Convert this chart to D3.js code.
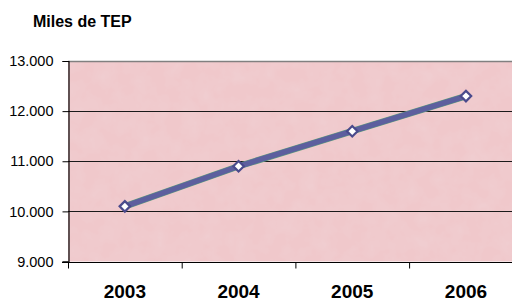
<!DOCTYPE html>
<html>
<head>
<meta charset="utf-8">
<script src="https://cdn.jsdelivr.net/npm/d3@7"></script>
<style>
  body { margin: 0; background: #fff; }
  svg { display: block; font-family: Arial, "Liberation Sans", sans-serif; }
</style>
</head>
<body>
<svg class="chart" width="512" height="302"></svg>
<script>
const years = ['2003', '2004', '2005', '2006']
const consumo = [10100, 10900, 11600, 12300]
const yTicks = [9000, 10000, 11000, 12000, 13000]
const yTickLabels = ['9.000', '10.000', '11.000', '12.000', '13.000']

const width = 512
const height = 302
const margin = {left: 68, top: 61, right: 0, bottom: 40}

const svg = d3.select('.chart')

const xScale = d3.scaleBand()
  .domain(years)
  .range([margin.left, margin.left + 4 * 113.7])

const yScale = d3.scaleLinear()
  .domain([9000, 13000])
  .range([height - margin.bottom - 0.5, margin.top])

// mottled pink background
const defs = svg.append('defs')
const filt = defs.append('filter').attr('id', 'mottle')
  .attr('x', 0).attr('y', 0).attr('width', 1).attr('height', 1)
filt.append('feTurbulence')
  .attr('type', 'fractalNoise')
  .attr('baseFrequency', 0.06)
  .attr('numOctaves', 3)
  .attr('seed', 4)
  .attr('result', 'noise')
filt.append('feColorMatrix')
  .attr('in', 'noise')
  .attr('type', 'matrix')
  .attr('values', '0 0 0 0 0.88  0 0 0 0 0.70  0 0 0 0 0.72  0.5 0 0 0 -0.16')
  .attr('result', 'tint')
filt.append('feComposite').attr('in', 'tint').attr('in2', 'SourceGraphic').attr('operator', 'atop')

svg.append('rect')
  .attr('x', margin.left)
  .attr('y', yScale(13000))
  .attr('width', width - margin.left)
  .attr('height', yScale(9000) - yScale(13000))
  .attr('fill', '#f0c8cb')
  .attr('filter', 'url(#mottle)')

// gridlines
svg.append('g')
  .selectAll('line')
  .data(yTicks.slice(1, 4))
  .enter()
  .append('line')
  .attr('x1', margin.left)
  .attr('x2', width)
  .attr('y1', d => Math.round(yScale(d)) + 0.5)
  .attr('y2', d => Math.round(yScale(d)) + 0.5)
  .attr('stroke', '#1a1a1a')
  .attr('stroke-width', 1)

// top border
svg.append('line')
  .attr('x1', margin.left).attr('x2', width)
  .attr('y1', Math.round(yScale(13000)) + 0.5)
  .attr('y2', Math.round(yScale(13000)) + 0.5)
  .attr('stroke', '#808080')
  .attr('stroke-width', 1.5)

// y axis
const yAxis = d3.axisLeft(yScale)
  .tickValues(yTicks)
  .tickSize(6)
  .tickFormat((d, i) => yTickLabels[i])

const gy = svg.append('g')
  .attr('transform', 'translate(' + (margin.left + 0.5) + ',0)')
  .call(yAxis)
gy.select('.domain').attr('stroke', '#000').attr('stroke-width', 1.2)
gy.selectAll('.tick line').attr('stroke', '#000')
gy.selectAll('.tick text')
  .attr('font-size', 14.5)
  .attr('font-family', 'Arial, "Liberation Sans", sans-serif')
  .attr('fill', '#000')
  .attr('x', -15)

// x axis
const xAxis = d3.axisBottom(xScale)
  .tickSize(0)

const gx = svg.append('g')
  .attr('transform', 'translate(0,' + (Math.round(yScale(9000)) + 0.5) + ')')
  .call(xAxis)
gx.select('.domain').remove()
gx.append('line')
  .attr('x1', margin.left - 6).attr('x2', width)
  .attr('stroke', '#000').attr('stroke-width', 1.2)
gx.selectAll('.sep')
  .data(years)
  .enter()
  .append('line')
  .attr('class', 'sep')
  .attr('x1', d => xScale(d) + 0.5)
  .attr('x2', d => xScale(d) + 0.5)
  .attr('y1', 0).attr('y2', 6)
  .attr('stroke', '#000')
gx.selectAll('.tick text')
  .attr('y', 35.5)
  .attr('dy', 0)
  .attr('font-size', 19)
  .attr('font-weight', 'bold')
  .attr('font-family', 'Arial, "Liberation Sans", sans-serif')
  .attr('fill', '#000')

// line
const pts = years.map((y, i) => ({year: y, value: consumo[i]}))
const line = d3.line()
  .x(d => xScale(d.year) + xScale.bandwidth() / 2)
  .y(d => yScale(d.value))

svg.append('path')
  .datum(pts)
  .attr('d', line)
  .attr('fill', 'none')
  .attr('stroke', '#5e9e7e')
  .attr('stroke-width', 6.5)
svg.append('path')
  .datum(pts)
  .attr('d', line)
  .attr('fill', 'none')
  .attr('stroke', '#5d5f9e')
  .attr('stroke-width', 5.5)

// markers
svg.append('g')
  .selectAll('path')
  .data(pts)
  .enter()
  .append('path')
  .attr('d', d3.symbol().type(d3.symbolDiamond2).size(70))
  .attr('transform', d => 'translate(' + (xScale(d.year) + xScale.bandwidth() / 2) + ',' + yScale(d.value) + ')')
  .attr('fill', '#fff')
  .attr('stroke', '#4a4a8c')
  .attr('stroke-width', 2.2)

// title
svg.append('text')
  .attr('x', 33)
  .attr('y', 27)
  .attr('font-size', 16)
  .attr('font-weight', 'bold')
  .attr('fill', '#000')
  .text('Miles de TEP')
</script>
</body>
</html>
